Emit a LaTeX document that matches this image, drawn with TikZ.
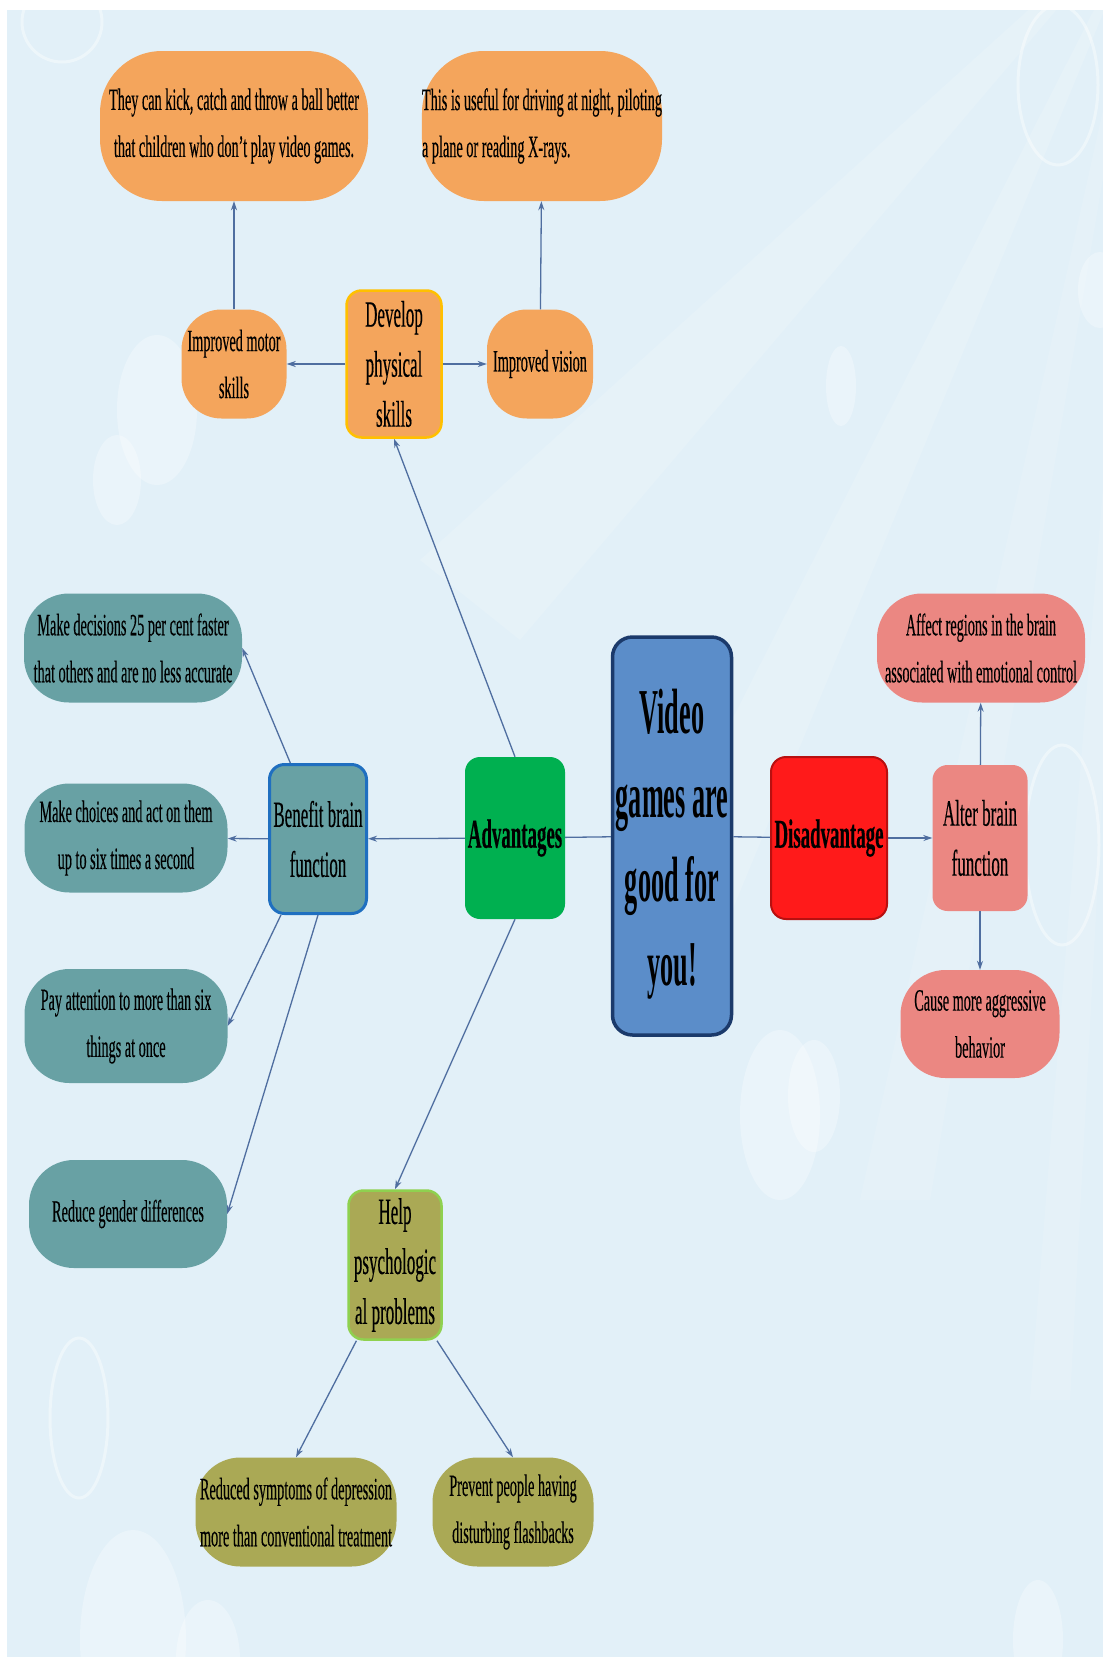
\documentclass[tikz,border=0pt]{standalone}
\usepackage{fontspec}
\setmainfont{Liberation Serif}[FakeStretch=0.46,FakeBold=0.3]
\newfontfamily\titlefont{Liberation Serif}[FakeStretch=0.41]
\usetikzlibrary{arrows.meta}

\definecolor{bgblue}{HTML}{E2F0F8}
\definecolor{linkblue}{HTML}{4F6EA0}
\definecolor{orangefill}{HTML}{F4A55C}
\definecolor{tealfill}{HTML}{68A1A4}
\definecolor{pinkfill}{HTML}{EB8782}
\definecolor{olivefill}{HTML}{AAA955}
\definecolor{advgreen}{HTML}{00B050}
\definecolor{disred}{HTML}{FF1A1A}
\definecolor{disborder}{HTML}{B81010}
\definecolor{mainblue}{HTML}{5B8DC9}
\definecolor{mainborder}{HTML}{1B3A6B}
\definecolor{gold}{HTML}{FFC000}
\definecolor{brainblue}{HTML}{1F6FC0}
\definecolor{limegreen}{HTML}{8FD14F}

\begin{document}
\begin{tikzpicture}[x=1pt,y=-1pt,
  >={Stealth[length=9pt,width=6pt]},
  link/.style={draw=linkblue,line width=1.3pt},
  leaf/.style={fill=#1,rounded corners=45pt,inner sep=0pt,align=center,
    font=\fontsize{31}{47}\selectfont},
  branch/.style={fill=#1,rounded corners=15pt,inner sep=0pt,align=center,
    font=\fontsize{37}{50}\selectfont},
  side/.style={fill=#1,rounded corners=15pt,inner sep=0pt,
    font=\bfseries\fontsize{41}{50}\selectfont}]
\useasboundingbox (0,0) rectangle (1103,1657);
\fill [white] (0,0) rectangle (1103,1657);
\fill [bgblue] (7,10) rectangle (1103,1657);

% background rays and bubbles
\begin{scope}
\clip (7,10) rectangle (1103,1657);
\fill [white,opacity=0.14] (1150,-100) -- (420,560) -- (520,640) -- cycle;
\fill [white,opacity=0.14] (1150,-100) -- (640,900) -- (720,940) -- cycle;
\fill [white,opacity=0.12] (1150,-100) -- (860,1200) -- (930,1200) -- cycle;
\fill [white,opacity=0.12] (1150,-100) -- (1030,1400) -- (1070,1400) -- cycle;
\fill [white,opacity=0.3] (157,410) ellipse (40 and 75);
\fill [white,opacity=0.3] (117,480) ellipse (24 and 45);
\fill [white,opacity=0.3] (841,386) ellipse (15 and 40);
\fill [white,opacity=0.3] (1100,290) ellipse (22 and 38);
\fill [white,opacity=0.3] (780,1115) ellipse (40 and 85);
\fill [white,opacity=0.3] (814,1096) ellipse (26 and 56);
\fill [white,opacity=0.3] (133,1640) ellipse (53 and 110);
\fill [white,opacity=0.3] (208,1660) ellipse (32 and 60);
\fill [white,opacity=0.3] (1038,1640) ellipse (25 and 60);
\draw [white,opacity=0.4,line width=3pt] (79,1418) ellipse (29 and 80);
\draw [white,opacity=0.4,line width=3pt] (1058,85) ellipse (40 and 80);
\draw [white,opacity=0.4,line width=3pt] (1062,845) ellipse (37 and 100);
\draw [white,opacity=0.4,line width=3pt] (62,22) circle (40);
\end{scope}

% centre and the two sides
\node (main) [fill=mainblue,draw=mainborder,line width=3.5pt,rounded corners=20pt,
  inner sep=0pt,align=center,minimum width=119pt,minimum height=398pt,
  font=\titlefont\bfseries\fontsize{64}{84}\selectfont] at (672,836)
  {\rule{0pt}{61pt}Video\\games are\\good for\\you!};
\node (adv) [side=advgreen,minimum width=100pt,minimum height=162pt] at (515,838) {Advantages};
\node (dis) [side=disred,draw=disborder,line width=2pt,minimum width=116pt,minimum height=162pt]
  at (829,838) {Disadvantage};

% physical skills
\node (dev) [branch=orangefill,draw=gold,line width=2.5pt,minimum width=95pt,minimum height=147pt]
  at (394,364) {Develop\\physical\\skills};
\node (motor) [leaf=orangefill,rounded corners=40pt,minimum width=105pt,minimum height=109pt]
  at (234,364) {Improved motor\\skills};
\node (vision) [leaf=orangefill,rounded corners=40pt,minimum width=106pt,minimum height=109pt]
  at (540,364) {Improved vision};
\node (kick) [leaf=orangefill,rounded corners=62pt,minimum width=268pt,minimum height=150pt]
  at (234,126) {They can kick, catch and throw a ball better\\that children who don’t play video games.};
\node (night) [leaf=orangefill,rounded corners=62pt,align=left,minimum width=240pt,minimum height=150pt]
  at (542,126) {This is useful for driving at night, piloting\\a plane or reading X-rays.};

% brain function
\node (brain) [branch=tealfill,draw=brainblue,line width=3pt,minimum width=97pt,minimum height=149pt]
  at (318,839) {Benefit brain\\function};
\node (decide) [leaf=tealfill,minimum width=218pt,minimum height=109pt] at (133,648)
  {Make decisions 25 per cent faster\\that others and are no less accurate};
\node (choose) [leaf=tealfill,minimum width=203pt,minimum height=109pt] at (126,838)
  {Make choices and act on them\\up to six times a second};
\node (attend) [leaf=tealfill,minimum width=203pt,minimum height=114pt] at (126,1026)
  {Pay attention to more than six\\things at once};
\node (gender) [leaf=tealfill,minimum width=198pt,minimum height=108pt] at (128,1214)
  {Reduce gender differences};

% psychological problems
\node (psych) [branch=olivefill,draw=limegreen,line width=2.5pt,minimum width=93pt,minimum height=149pt]
  at (395,1265) {Help\\psychologic\\al problems};
\node (depress) [leaf=olivefill,minimum width=201pt,minimum height=109pt] at (296,1512)
  {Reduced symptoms of depression\\more than conventional treatment};
\node (flash) [leaf=olivefill,minimum width=161pt,minimum height=109pt] at (513,1512)
  {Prevent people having\\disturbing flashbacks};

% disadvantage side
\node (alter) [branch=pinkfill,minimum width=95pt,minimum height=146pt] at (980,838)
  {Alter brain\\function};
\node (region) [leaf=pinkfill,minimum width=208pt,minimum height=109pt] at (981,648)
  {Affect regions in the brain\\associated with emotional control};
\node (aggr) [leaf=pinkfill,minimum width=159pt,minimum height=108pt] at (980,1024)
  {Cause more aggressive\\behavior};

\draw [link] (main) to (adv);
\draw [link] (main) to (dis);
\draw [link,->] (dis) to (alter);
\draw [link,->] (alter) to (region);
\draw [link,->] (alter) to (aggr);
\draw [link,->] (adv.north) to (dev.south);
\draw [link,->] (adv) to (brain);
\draw [link,->] (adv.south) to (psych.north);
\draw [link,->] (dev) to (motor);
\draw [link,->] (dev) to (vision);
\draw [link,->] (motor) to (kick);
\draw [link,->] (vision) to (night);
\draw [link,->] (brain.110) to (decide.east);
\draw [link,->] (brain) to (choose);
\draw [link,->] (brain.244) to (attend.east);
\draw [link,->] (brain.south) to (gender.east);
\draw [link,->] (psych.243) to (depress.north);
\draw [link,->] (psych.299) to (flash.north);
\end{tikzpicture}
\end{document}
